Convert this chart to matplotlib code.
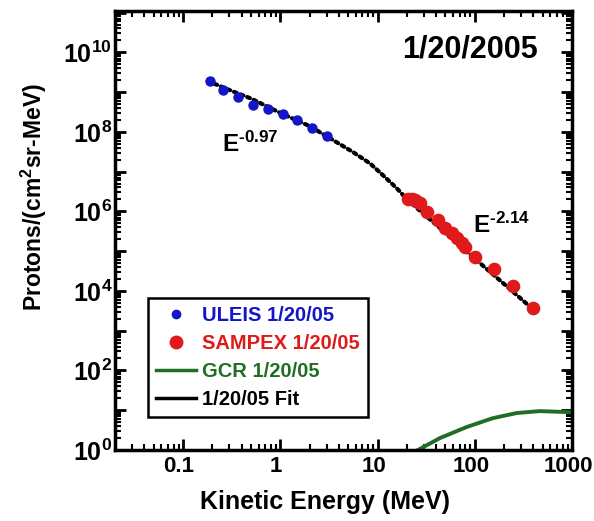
import math
import matplotlib
matplotlib.use("Agg")
import matplotlib.pyplot as plt
import matplotlib.transforms as mtransforms
from matplotlib.lines import Line2D
from matplotlib.ticker import FixedLocator, LogLocator, FuncFormatter, NullFormatter

plt.rcParams['font.family'] = ['Liberation Sans', 'DejaVu Sans']
plt.rcParams['font.weight'] = 'bold'
plt.rcParams['mathtext.fontset'] = 'custom'
plt.rcParams['mathtext.rm'] = 'Liberation Sans:bold'
plt.rcParams['mathtext.bf'] = 'Liberation Sans:bold'
plt.rcParams['mathtext.it'] = 'Liberation Sans:bold'

# ULEIS points (MeV, protons/(cm2 sr MeV))
uleis_e = [0.19, 0.26, 0.37, 0.53, 0.75, 1.07, 1.5, 2.1, 3.0]
uleis_f = [1.9e9, 1.15e9, 7.4e8, 4.7e8, 3.7e8, 2.8e8, 1.95e8, 1.23e8, 7.8e7]

# SAMPEX points
sampex_e = [20.5, 22.5, 24.3, 27.3, 32.2, 41.7, 49.3, 58, 65.4, 73.6, 78.9, 100, 157, 245, 393]
sampex_f = [2.1e6, 2.0e6, 1.9e6, 1.6e6, 9.5e5, 6.0e5, 3.8e5, 2.8e5, 2.15e5, 1.6e5,
            1.25e5, 7.0e4, 3.5e4, 1.3e4, 3.7e3]

# GCR spectrum
gcr_e = [20, 27, 44, 83, 153, 270, 464, 880, 1000]
gcr_f = [0.7, 1.05, 2.0, 3.8, 6.3, 8.5, 9.5, 9.0, 8.9]

# fitted spectrum
fit_e = [0.18, 0.3, 0.5, 1.0, 2.0, 3.5, 5.6, 8.4, 11.4, 15.8, 20, 30, 44, 70, 100, 200, 400]
fit_f = [1.9e9, 1.13e9, 6.9e8, 3.0e8, 1.4e8, 6.2e7, 3.1e7, 1.6e7, 8.1e6, 3.8e6,
         2.05e6, 8.5e5, 3.8e5, 1.4e5, 6.5e4, 1.5e4, 3.4e3]

blue = '#1414c8'
red = '#e01a1a'
green = '#1f6e24'

fig = plt.figure(figsize=(5.94, 5.21), dpi=100)
ax = fig.add_axes([0.1936, 0.1363, 0.7694, 0.8427])

ax.plot(gcr_e, gcr_f, color=green, lw=2.8)
ax.plot(fit_e, fit_f, color='black', lw=3, linestyle=(0, (0.7, 1.0)),
        dash_capstyle='round')
ax.plot(uleis_e, uleis_f, 'o', color=blue, ms=6.5, mec=blue)
ax.plot(sampex_e, sampex_f, 'o', color=red, ms=8.8, mec=red)

ax.set_xscale('log')
ax.set_yscale('log')
ax.set_xlim(0.02, 1000)
ax.set_ylim(1, 1.1e11)

ax.xaxis.set_major_locator(FixedLocator([0.1, 1, 10, 100, 1000]))
ax.xaxis.set_minor_locator(LogLocator(base=10, subs=range(2, 10), numticks=20))
ax.xaxis.set_major_formatter(FuncFormatter(lambda v, p: '%g' % v))
ax.xaxis.set_minor_formatter(NullFormatter())

ax.yaxis.set_major_locator(FixedLocator([10.0 ** k for k in range(0, 12)]))
ax.yaxis.set_minor_locator(LogLocator(base=10, subs=range(2, 10), numticks=30))


def ylab(v, p):
    k = int(round(math.log10(v)))
    if k % 2 == 0 and k <= 10:
        return r'$10^{%d}$' % k
    return ''


ax.yaxis.set_major_formatter(FuncFormatter(ylab))
ax.yaxis.set_minor_formatter(NullFormatter())

ax.tick_params(which='both', direction='in', top=True, right=True)
ax.tick_params(which='major', length=8, width=2)
ax.tick_params(axis='x', which='major', pad=4, labelsize=16)
ax.tick_params(axis='y', which='major', pad=2, labelsize=18)
ax.tick_params(which='minor', length=4, width=1.5)
for s in ax.spines.values():
    s.set_linewidth(2.5)

# x tick labels sit a few pixels left of their ticks in the original
shift = mtransforms.ScaledTranslation(-4 / 100, 0, fig.dpi_scale_trans)
for lab in ax.get_xticklabels():
    lab.set_transform(lab.get_transform() + shift)

ax.set_xlabel('Kinetic Energy (MeV)', fontsize=18, fontweight='bold')
ax.set_ylabel(r'Protons/(cm$^2$sr-MeV)', fontsize=16.5, fontweight='bold')
ax.xaxis.set_label_coords(0.46, -0.091)
ax.yaxis.set_label_coords(-0.145, 0.576)

ax.text(0.926, 0.893, '1/20/2005', transform=ax.transAxes, ha='right',
        va='baseline', fontsize=22, fontweight='bold')
ax.text(0.25, 3.1e7, r'E$^{\text{-0.97}}$', fontsize=17.5, fontweight='bold')
ax.text(95, 2.8e5, r'E$^{\text{-2.14}}$', fontsize=17.5, fontweight='bold')

handles = [
    Line2D([], [], ls='none', marker='o', color=blue, ms=6),
    Line2D([], [], ls='none', marker='o', color=red, ms=9),
    Line2D([], [], color=green, lw=2.5),
    Line2D([], [], color='black', lw=2.5),
]
labels = ['ULEIS 1/20/05', 'SAMPEX 1/20/05', 'GCR 1/20/05', '1/20/05 Fit']
leg = ax.legend(handles, labels, loc='lower left', bbox_to_anchor=(0.072, 0.075),
                fontsize=14.5, frameon=True, fancybox=False, framealpha=1,
                edgecolor='black', handlelength=2.0, handletextpad=0.3,
                labelspacing=0.45, borderpad=0.4, borderaxespad=0)
leg.get_frame().set_linewidth(1.8)
for t, c in zip(leg.get_texts(), [blue, red, green, 'black']):
    t.set_color(c)
    t.set_fontweight('bold')

fig.savefig('out.png', dpi=100)
